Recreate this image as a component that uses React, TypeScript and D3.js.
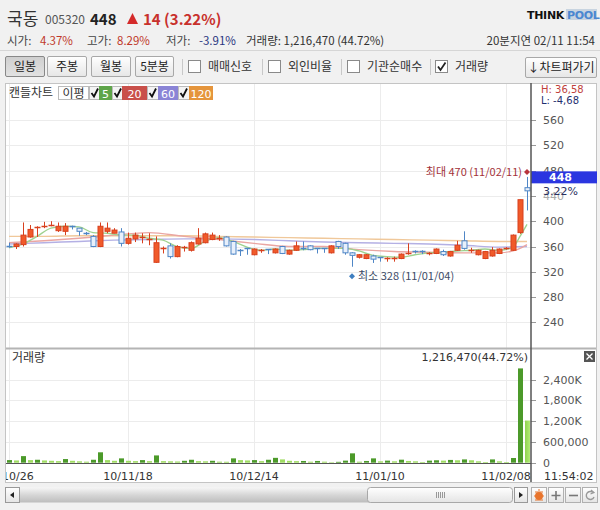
import * as d3 from "d3"

// trading days shown (yy/mm/dd)
const dates = [
  "10/10/26", "10/10/27", "10/10/28", "10/10/29", "10/11/01", "10/11/02", "10/11/03", "10/11/04", "10/11/05",
  "10/11/08", "10/11/09", "10/11/10", "10/11/11", "10/11/12", "10/11/15", "10/11/16", "10/11/17", "10/11/18",
  "10/11/19", "10/11/22", "10/11/23", "10/11/24", "10/11/25", "10/11/26", "10/11/29", "10/11/30", "10/12/01",
  "10/12/02", "10/12/03", "10/12/06", "10/12/07", "10/12/08", "10/12/09", "10/12/10", "10/12/13", "10/12/14",
  "10/12/15", "10/12/16", "10/12/17", "10/12/20", "10/12/21", "10/12/22", "10/12/23", "10/12/24", "10/12/27",
  "10/12/28", "10/12/29", "10/12/30", "11/01/03", "11/01/04", "11/01/05", "11/01/06", "11/01/07", "11/01/10",
  "11/01/11", "11/01/12", "11/01/13", "11/01/14", "11/01/17", "11/01/18", "11/01/19", "11/01/20", "11/01/21",
  "11/01/24", "11/01/25", "11/01/26", "11/01/27", "11/01/28", "11/01/31", "11/02/01", "11/02/07", "11/02/08",
  "11/02/09", "11/02/10", "11/02/11",
]

const opens = [
  361, 360, 363, 375, 389, 392, 393, 385, 384, 393, 389, 382, 376, 360, 384, 381, 383, 365, 372, 374,
  371, 335, 356, 361, 344, 358, 354, 364, 366, 371, 373, 375, 368, 355, 357, 347, 354, 356, 350, 360,
  348, 354, 358, 361, 357, 357, 350, 368, 365, 350, 343, 341, 345, 343, 341, 341, 341, 349, 353, 353,
  348, 349, 352, 345, 354, 369, 353, 347, 341, 345, 349, 356, 354, 382, 453,
]
const highs = [
  366, 365, 398, 394, 392, 399, 400, 398, 397, 393, 389, 383, 378, 398, 398, 389, 389, 382, 382, 381,
  381, 376, 360, 365, 362, 361, 368, 389, 382, 382, 378, 376, 369, 356, 357, 357, 356, 356, 357, 361,
  355, 368, 368, 362, 357, 357, 362, 369, 366, 351, 348, 348, 347, 343, 343, 344, 349, 365, 354, 354,
  351, 357, 355, 353, 369, 384, 358, 355, 353, 359, 357, 359, 379, 434, 470,
]
const lows = [
  358, 356, 360, 374, 375, 389, 392, 383, 378, 387, 377, 378, 359, 359, 381, 381, 360, 363, 367, 365,
  362, 334, 349, 341, 343, 352, 352, 363, 365, 370, 369, 360, 347, 345, 347, 346, 350, 348, 349, 348,
  347, 353, 354, 354, 349, 350, 349, 356, 347, 328, 341, 340, 334, 336, 336, 336, 340, 347, 349, 348,
  346, 348, 345, 344, 353, 355, 350, 346, 340, 344, 348, 355, 353, 380, 417,
]
const closes = [
  360, 364, 378, 387, 391, 393, 394, 392, 392, 392, 384, 380, 360, 392, 389, 386, 365, 373, 378, 375,
  372, 366, 357, 344, 360, 359, 366, 373, 380, 378, 374, 361, 348, 354, 356, 356, 355, 355, 356, 349,
  354, 361, 357, 355, 356, 356, 361, 360, 350, 346, 347, 347, 340, 342, 342, 342, 348, 350, 352, 352,
  349, 356, 347, 352, 362, 357, 354, 354, 352, 354, 356, 357, 378, 434, 448,
]
const volumes = [
  75000, 65000, 190000, 75000, 85000, 65000, 55000, 45000, 105000, 55000, 40000, 30000, 85000, 300000, 75000,
  55000, 125000, 55000, 45000, 75000, 45000, 210000, 45000, 40000, 35000, 55000, 85000, 45000, 40000, 55000,
  30000, 28000, 125000, 75000, 65000, 75000, 45000, 85000, 140000, 95000, 55000, 45000, 50000, 30000, 50000,
  30000, 15000, 25000, 60000, 270000, 30000, 50000, 125000, 40000, 60000, 40000, 87000, 50000, 40000, 20000,
  60000, 70000, 60000, 80000, 70000, 95000, 70000, 40000, 20000, 95000, 40000, 20000, 135000, 2720000, 1216470,
]

// moving averages at sample days
const ma5Idx = [0, 2, 4, 6, 8, 10, 12, 14, 16, 18, 20, 22, 24, 26, 28, 30, 32, 34, 36, 38, 40, 42, 44, 46, 48, 50, 52, 54, 56, 58, 60, 62, 64, 66, 68, 70, 72, 73, 74]
const ma5 = [358, 364, 376, 389, 392, 391, 382, 381, 378, 378, 373, 370, 360, 357, 368, 374, 368, 359, 354, 356, 354, 355, 357, 357, 357, 353, 346, 344, 343, 347, 350, 351, 353, 354, 356, 354, 359, 376, 395]
const ma20Idx = [0, 5, 10, 15, 20, 25, 30, 35, 40, 45, 50, 55, 60, 65, 70, 72, 73, 74]
const ma20 = [366, 369, 373, 378, 382, 376, 371, 365, 360, 360, 355, 352, 351, 350, 350, 353, 357, 363]
const maLongIdx = [0, 5, 10, 15, 20, 25, 30, 35, 40, 45, 50, 55, 60, 65, 70, 74]
const ma60 = [364, 366, 368, 370, 371, 372, 372, 371, 369, 367, 366, 365, 364, 362, 359, 360]
const ma120 = [376, 376, 377, 377, 377, 377, 376, 375, 374, 373, 372, 371, 370, 369, 368, 368]

const priceTicks = [240, 280, 320, 360, 400, 440, 480, 520, 560]
const volTicks = [0, 600000, 1200000, 1800000, 2400000]
const volTickLabels = ["0", "600,000", "1,200K", "1,800K", "2,400K"]
const dateTicks = ["10/10/26", "10/11/18", "10/12/14", "11/01/10", "11/02/08"]

const KR = "'Noto Sans CJK KR', 'Noto Sans', sans-serif"
const NUM = "'DejaVu Sans', Verdana, sans-serif"

function Btn({ x, w, label, pressed }: { x: number; w: number; label: string; pressed?: boolean }) {
  return (
    <g>
      <rect x={x + 0.5} y={56.5} width={w} height={20} rx={1.5} fill={pressed ? "url(#btnDown)" : "url(#btnUp)"} stroke={pressed ? "#888" : "#a8a8a8"} />
      <text x={x + w / 2 + 0.5} y={70.5} textAnchor="middle" fontFamily={KR} fontSize={12} fill="#222">{label}</text>
    </g>
  )
}

function Check({ x, label, checked }: { x: number; label: string; checked?: boolean }) {
  return (
    <g>
      <rect x={x + 0.5} y={60.5} width={12} height={12} fill="#fff" stroke="#8a8a8a" />
      {checked && <path d={`M${x + 3},66.5 L${x + 5.5},70 L${x + 10.5},62.5`} fill="none" stroke="#222" strokeWidth={1.8} />}
      <text x={x + 20} y={71} fontFamily={KR} fontSize={12} fill="#333">{label}</text>
    </g>
  )
}

function Diamond({ cx, cy, r, fill }: { cx: number; cy: number; r: number; fill: string }) {
  return <path d={`M${cx},${cy - r} L${cx + r},${cy} L${cx},${cy + r} L${cx - r},${cy} Z`} fill={fill} />
}

export default function App() {
  const x = d3.scalePoint<string>().domain(dates).range([9, 527])
  const yP = d3.scaleLinear().domain([240, 560]).range([322.4, 120])
  const yV = d3.scaleLinear().domain([0, 2400000]).range([462.7, 379.5])

  const maLine = d3
    .line<[number, number]>()
    .x((d) => x(dates[d[0]]) as number)
    .y((d) => yP(d[1]))
    .curve(d3.curveMonotoneX)

  const maSeries = [
    { idx: maLongIdx, vals: ma120, color: "#f0c89a" },
    { idx: maLongIdx, vals: ma60, color: "#b4b0e4" },
    { idx: ma20Idx, vals: ma20, color: "#eaa6a2" },
    { idx: ma5Idx, vals: ma5, color: "#9fd28f" },
  ]

  const last = dates.length - 1
  const maxI = d3.maxIndex(highs)
  const minI = d3.minIndex(lows)

  return (
    <svg width={600} height={510} style={{ position: "absolute", left: 0, top: 0 }}>
      <defs>
        <linearGradient id="btnUp" x1="0" y1="0" x2="0" y2="1">
          <stop offset="0" stopColor="#ffffff" />
          <stop offset="1" stopColor="#e6e6e6" />
        </linearGradient>
        <linearGradient id="btnDown" x1="0" y1="0" x2="0" y2="1">
          <stop offset="0" stopColor="#cfcfcf" />
          <stop offset="1" stopColor="#e2e2e2" />
        </linearGradient>
        <linearGradient id="track" x1="0" y1="0" x2="0" y2="1">
          <stop offset="0" stopColor="#f6f6f6" />
          <stop offset="0.5" stopColor="#d6d6d6" />
          <stop offset="1" stopColor="#bdbdbd" />
        </linearGradient>
        <linearGradient id="thumb" x1="0" y1="0" x2="0" y2="1">
          <stop offset="0" stopColor="#ffffff" />
          <stop offset="1" stopColor="#e4e4e4" />
        </linearGradient>
        <linearGradient id="vol2" x1="0" y1="0" x2="1" y2="0">
          <stop offset="0" stopColor="#8ed24e" />
          <stop offset="1" stopColor="#b4ec78" />
        </linearGradient>
        <clipPath id="plotClip">
          <rect x={5} y={83} width={526} height={400} />
        </clipPath>
      </defs>

      <rect x={0} y={0} width={600} height={510} fill="#f1f1f1" />

      {/* header */}
      <text x={7} y={25} fontFamily={KR} fontSize={17} fill="#333">국동</text>
      <text x={45} y={24} fontFamily={KR} fontSize={12} fill="#555">005320</text>
      <text x={90} y={25} fontFamily={KR} fontSize={15} fontWeight="bold" fill="#222">448</text>
      <path d="M127,24 L132.5,13 L138,24 Z" fill="#d42a2a" />
      <text x={143} y={25} fontFamily={KR} fontSize={15} fontWeight="bold" fill="#c8302c">14 (3.22%)</text>

      <g fontFamily={KR} fontSize={11.5}>
        <text x={7} y={45} fill="#444">시가:</text>
        <text x={40} y={45} fill="#c0392b">4.37%</text>
        <text x={87} y={45} fill="#444">고가:</text>
        <text x={117} y={45} fill="#c0392b">8.29%</text>
        <text x={166} y={45} fill="#444">저가:</text>
        <text x={199} y={45} fill="#2a3580">-3.91%</text>
        <text x={246} y={45} fill="#333">거래량: 1,216,470 (44.72%)</text>
        <text x={595} y={45} textAnchor="end" fill="#333">20분지연 02/11 11:54</text>
      </g>

      <text x={527} y={19} fontFamily={NUM} fontSize={11} fontWeight="bold" fill="#111" letterSpacing={-0.3}>THINK</text>
      <rect x={566} y={9} width={31} height={11} fill="#c8d4e0" />
      <text x={567} y={19} fontFamily={NUM} fontSize={11} fontWeight="bold" fill="#4a86d0" letterSpacing={-0.3}>POOL</text>

      <line x1={0} x2={600} y1={50.5} y2={50.5} stroke="#d6d6d6" />

      {/* toolbar */}
      <Btn x={5} w={39} label="일봉" pressed />
      <Btn x={47} w={39} label="주봉" />
      <Btn x={91} w={39} label="월봉" />
      <Btn x={135} w={38} label="5분봉" />
      {[182, 262, 341, 430].map((sx) => (
        <line key={sx} x1={sx + 0.5} x2={sx + 0.5} y1={59} y2={75} stroke="#c8c8c8" />
      ))}
      <Check x={188} label="매매신호" />
      <Check x={268} label="외인비율" />
      <Check x={347} label="기관순매수" />
      <Check x={435} label="거래량" checked />
      <rect x={525.5} y={57.5} width={71} height={20} rx={1.5} fill="url(#btnUp)" stroke="#a8a8a8" />
      <text x={561} y={72} textAnchor="middle" fontFamily={KR} fontSize={12} fill="#222">↓차트펴가기</text>

      {/* chart frame */}
      <rect x={5} y={83} width={592} height={399} fill="#fff" />

      {/* grid */}
      <g stroke="#ececec">
        {priceTicks.map((t) => (
          <line key={t} x1={5} x2={531} y1={Math.round(yP(t)) + 0.5} y2={Math.round(yP(t)) + 0.5} />
        ))}
        {volTicks.slice(1).map((t) => (
          <line key={t} x1={5} x2={531} y1={Math.round(yV(t)) + 0.5} y2={Math.round(yV(t)) + 0.5} />
        ))}
        {dateTicks.map((d) => (
          <line key={d} x1={Math.round(x(d) as number) + 0.5} x2={Math.round(x(d) as number) + 0.5} y1={83} y2={463} />
        ))}
      </g>

      {/* legend */}
      <text x={9} y={97} fontFamily={KR} fontSize={12} fill="#333">캔들차트</text>
      <rect x={58.5} y={86.5} width={30} height={13} fill="#fff" stroke="#bbb" />
      <text x={73.5} y={97.5} textAnchor="middle" fontFamily={KR} fontSize={12} fill="#333">이평</text>
      {[
        { cx: 89, bx: 99, bw: 13, label: "5", c: "#5fa54a" },
        { cx: 112, bx: 122, bw: 25, label: "20", c: "#c9504a" },
        { cx: 147, bx: 158, bw: 20, label: "60", c: "#8a84d6" },
        { cx: 178, bx: 189, bw: 24, label: "120", c: "#e5953c" },
      ].map((l) => (
        <g key={l.label}>
          <rect x={l.cx + 0.5} y={86.5} width={l.bx - l.cx} height={13} fill="#f4f4f4" stroke="#bbb" />
          <path d={`M${l.cx + 2.5},93 L${l.cx + 5},96.5 L${l.cx + 9},88.5`} fill="none" stroke="#111" strokeWidth={1.8} />
          <rect x={l.bx} y={86} width={l.bw} height={14} fill={l.c} />
          <text x={l.bx + l.bw / 2} y={97.5} textAnchor="middle" fontFamily={NUM} fontSize={11} fill="#fff">{l.label}</text>
        </g>
      ))}

      <g clipPath="url(#plotClip)">
        {/* moving averages */}
        {maSeries.map((s, k) => (
          <path
            key={k}
            d={maLine(s.idx.map((i, j) => [i, s.vals[j]] as [number, number])) || ""}
            fill="none"
            stroke={s.color}
            strokeWidth={1.4}
          />
        ))}

        {/* candles */}
        {dates.map((d, i) => {
          const cx = Math.round(x(d) as number) + 0.5
          const up = closes[i] >= opens[i]
          const stroke = up ? "#d8401e" : "#4f86c6"
          const fill = up ? "#f05a2a" : "#e8f0fb"
          const top = yP(Math.max(opens[i], closes[i]))
          const bot = yP(Math.min(opens[i], closes[i]))
          return (
            <g key={d}>
              <line x1={cx} x2={cx} y1={yP(highs[i])} y2={yP(lows[i])} stroke={stroke} />
              {bot - top < 1.5 ? (
                <line x1={cx - 3} x2={cx + 3} y1={Math.round(top) + 0.5} y2={Math.round(top) + 0.5} stroke={stroke} strokeWidth={1.5} />
              ) : (
                <rect x={cx - 2.5} y={top} width={5} height={bot - top} fill={fill} stroke={stroke} />
              )}
            </g>
          )
        })}

        {/* volume */}
        {dates.map((d, i) => {
          const dark = i === 0 || volumes[i] >= volumes[i - 1]
          const top = yV(volumes[i])
          return (
            <rect
              key={d}
              x={Math.round(x(d) as number) - 2}
              y={top}
              width={5}
              height={yV(0) - top}
              fill={i === last ? "url(#vol2)" : dark ? "#4c9a2a" : "#9fdc62"}
            />
          )
        })}

        {/* date labels */}
        {dateTicks.map((d) => (
          <text key={d} x={x(d) as number} y={479.5} textAnchor="middle" fontFamily={NUM} fontSize={11} fill="#333">
            {d}
          </text>
        ))}
      </g>

      {/* extreme markers */}
      <Diamond cx={x(dates[maxI]) as number} cy={yP(highs[maxI]) - 5} r={3} fill="#b8343c" />
      <text x={(x(dates[maxI]) as number) - 5} y={yP(highs[maxI]) - 1} textAnchor="end" fontFamily={KR} fontSize={11} fill="#a3323a">
        {`최대 ${highs[maxI]} (${dates[maxI]})`}
      </text>
      <Diamond cx={x(dates[minI]) as number} cy={yP(lows[minI]) + 9.5} r={3} fill="#3f7fc0" />
      <text x={(x(dates[minI]) as number) + 6} y={yP(lows[minI]) + 13.5} fontFamily={KR} fontSize={11} fill="#3c4a66">
        {`최소 ${lows[minI]} (${dates[minI]})`}
      </text>

      {/* panel separator and baselines */}
      <line x1={5} x2={597} y1={348.5} y2={348.5} stroke="#b4b4b4" strokeWidth={2} />
      <line x1={5} x2={531} y1={463.5} y2={463.5} stroke="#555" />
      <line x1={5} x2={597} y1={482.5} y2={482.5} stroke="#c4c4c4" />
      <line x1={5.5} x2={5.5} y1={83} y2={482} stroke="#c4c4c4" />
      <line x1={5} x2={597} y1={83.5} y2={83.5} stroke="#c4c4c4" />
      <line x1={596.5} x2={596.5} y1={83} y2={482} stroke="#c4c4c4" />

      {/* price axis */}
      <g fontFamily={NUM} fontSize={11} fill="#555">
        {priceTicks.map((t) => (
          <g key={t}>
            <line x1={531} x2={536} y1={Math.round(yP(t)) + 0.5} y2={Math.round(yP(t)) + 0.5} stroke="#999" />
            <text x={543} y={yP(t) + 4} fill={t === 440 ? "#aaa" : "#555"}>{t}</text>
          </g>
        ))}
        {volTicks.map((t, i) => (
          <g key={t}>
            <line x1={531} x2={536} y1={Math.round(yV(t)) + 0.5} y2={Math.round(yV(t)) + 0.5} stroke="#999" />
            <text x={543} y={yV(t) + 4}>{volTickLabels[i]}</text>
          </g>
        ))}
        <text x={544} y={479.5} fill="#333">11:54:02</text>
      </g>

      {/* high / low change */}
      <text x={541} y={92.5} fontFamily={NUM} fontSize={10} fill="#c0403c">H: 36,58</text>
      <text x={541} y={103.5} fontFamily={NUM} fontSize={10} fill="#1f2f70">L: -4,68</text>

      {/* current price tag */}
      <rect x={531} y={yP(closes[last]) - 19.5} width={66} height={12} fill="#2b36e0" />
      <text x={549} y={yP(closes[last]) - 9.5} fontFamily={NUM} fontSize={11} fontWeight="bold" fill="#fff">{closes[last]}</text>
      <text x={543} y={yP(closes[last]) + 4} fontFamily={NUM} fontSize={11} fill="#2a3060">3.22%</text>

      <line x1={531} x2={531} y1={83} y2={482} stroke="#555" strokeWidth={1.5} />

      {/* volume panel titles */}
      <text x={12} y={362} fontFamily={KR} fontSize={12} fill="#333">거래량</text>
      <text x={528} y={361} textAnchor="end" fontFamily={NUM} fontSize={11} fill="#333">1,216,470(44.72%)</text>
      <rect x={584} y={351} width={11} height={11} fill="#555" />
      <path d="M586.5,353.5 L592.5,359.5 M592.5,353.5 L586.5,359.5" stroke="#fff" strokeWidth={1.3} />

      {/* scrollbar */}
      <rect x={5.5} y={487.5} width={14} height={15} fill="url(#thumb)" stroke="#999" />
      <path d="M10,495 L14,492 L14,498 Z" fill="#222" />
      <rect x={20} y={487.5} width={490} height={15} fill="url(#track)" />
      <rect x={367.5} y={487.5} width={145} height={15} rx={3} fill="url(#thumb)" stroke="#a8a8a8" />
      {[436, 438, 440, 442, 444].map((gx) => (
        <line key={gx} x1={gx + 0.5} x2={gx + 0.5} y1={492} y2={498} stroke="#999" />
      ))}
      <rect x={514.5} y={487.5} width={13} height={15} fill="url(#thumb)" stroke="#999" />
      <path d="M523,495 L519,492 L519,498 Z" fill="#222" />
      {[531, 548, 565, 582].map((bx) => (
        <rect key={bx} x={bx + 0.5} y={487.5} width={15} height={15} fill="url(#thumb)" stroke="#b0b0b0" />
      ))}
      <circle cx={539} cy={496} r={4} fill="#e8742c" />
      <path d="M535,492 L543,492 M534,496 L544,496 M535,500 L543,500 M539,489 L539,491" stroke="#e8742c" strokeWidth={1} />
      <path d="M556,491 L556,500 M551.5,495.5 L560.5,495.5" stroke="#777" strokeWidth={1.6} />
      <path d="M569,495.5 L578,495.5" stroke="#777" strokeWidth={1.6} />
      <path d="M593,492.5 A4,4 0 1 0 594,497" fill="none" stroke="#999" strokeWidth={1.4} />
      <path d="M591,490 L594,492.5 L590.5,494" fill="none" stroke="#999" strokeWidth={1.2} />
    </svg>
  )
}
